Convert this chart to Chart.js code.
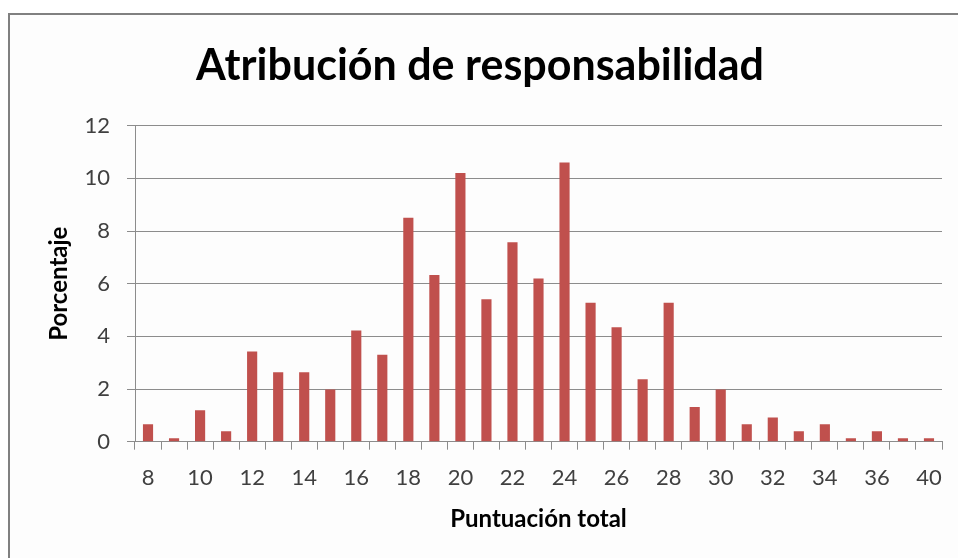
<!DOCTYPE html>
<html>
<head>
<meta charset="utf-8">
<script src="https://cdn.jsdelivr.net/npm/chart.js@4/dist/chart.umd.min.js"></script>
<style>
  html, body { margin: 0; padding: 0; background: #fff; }
  #frame {
    position: absolute; left: 8px; top: 13px; right: 0; bottom: 0;
    border-left: 2px solid #808080; border-top: 2px solid #808080;
    background: #fdfdfd;
  }
  #wrap { position: absolute; left: 0; top: 0; width: 958px; height: 558px; }
</style>
</head>
<body>
<div id="frame"></div>
<div id="wrap"><canvas id="chart" width="958" height="558"></canvas></div>
<script>
// total score categories (37 and 39 have no cases)
const scores = ['8', '9', '10', '11', '12', '13', '14', '15', '16', '17', '18', '19', '20', '21', '22', '23',
  '24', '25', '26', '27', '28', '29', '30', '31', '32', '33', '34', '35', '36', '38', '40']

// percentage of respondents per score
const percentages = [0.66, 0.13, 1.19, 0.4, 3.43, 2.64, 2.64, 1.98, 4.22, 3.3, 8.5, 6.33, 10.2, 5.41, 7.57, 6.2,
  10.6, 5.28, 4.35, 2.37, 5.28, 1.32, 1.98, 0.66, 0.92, 0.4, 0.66, 0.13, 0.4, 0.13, 0.13]

const yTicks = [0, 2, 4, 6, 8, 10, 12]

const gridColor = '#8c8c8c'
const tickColor = '#404040'
const fontFamily = 'Lato, "Open Sans", sans-serif'

const ctx = document.getElementById('chart')

new Chart(ctx, {
  type: 'bar',
  data: {
    labels: scores,
    datasets: [{
      label: 'Porcentaje',
      data: percentages,
      backgroundColor: '#c0504d',
      borderWidth: 0,
      categoryPercentage: 1,
      barPercentage: 0.39
    }]
  },
  options: {
    responsive: false,
    animation: false,
    layout: {
      padding: { left: 18, right: 16, top: 0, bottom: 20 }
    },
    plugins: {
      legend: { display: false },
      tooltip: { enabled: false },
      title: {
        display: true,
        text: 'Atribución de responsabilidad',
        color: '#000',
        font: { family: fontFamily, size: 43, weight: 'bold', lineHeight: 1.2 },
        padding: { top: 40.3, bottom: 33.8 }
      }
    },
    scales: {
      x: {
        offset: true,
        grid: {
          offset: true,
          drawOnChartArea: false,
          drawTicks: true,
          tickLength: 8,
          color: gridColor
        },
        border: { color: gridColor },
        ticks: {
          autoSkip: false,
          maxRotation: 0,
          padding: 15,
          color: tickColor,
          font: { family: fontFamily, size: 22 },
          // only every other score gets a label
          callback: (value, index) => index % 2 === 0 ? scores[index] : ''
        },
        title: {
          display: true,
          text: 'Puntuación total',
          color: '#000',
          font: { family: fontFamily, size: 24, weight: 'bold', lineHeight: 1.2 },
          padding: { top: 0, bottom: 4.6 }
        },
        afterFit: (axis) => { axis.height = 96.3 }
      },
      y: {
        min: 0,
        max: 12,
        afterBuildTicks: (axis) => { axis.ticks = yTicks.map(v => ({ value: v })) },
        grid: {
          color: gridColor,
          drawTicks: true,
          tickLength: 8
        },
        border: { color: gridColor },
        ticks: {
          padding: 17,
          color: tickColor,
          font: { family: fontFamily, size: 22 }
        },
        title: {
          display: true,
          text: 'Porcentaje',
          color: '#000',
          font: { family: fontFamily, size: 24, weight: 'bold', lineHeight: 1.2 },
          padding: { top: 26.6, bottom: 0 }
        },
        afterFit: (axis) => { axis.width = 117 }
      }
    }
  }
})
</script>
</body>
</html>
